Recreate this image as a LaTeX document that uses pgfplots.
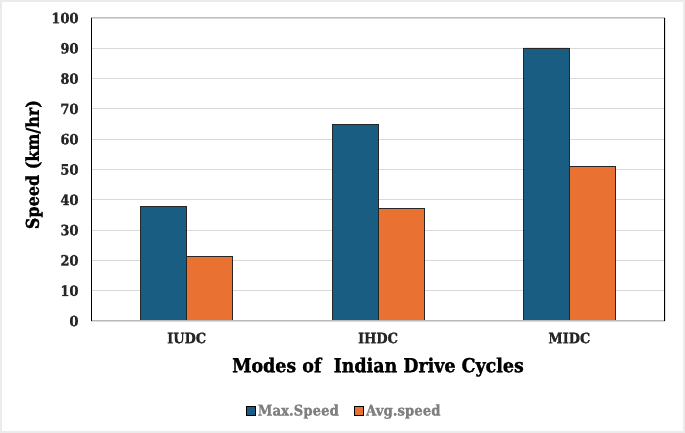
\documentclass[border=0pt]{standalone}
\usepackage{pgfplots}
\pgfplotsset{compat=1.18}
\usepackage{fontspec}
\setmainfont{DejaVu Serif Condensed}[BoldFeatures={FakeBold=1.2}]
\definecolor{cblue}{HTML}{195E82}
\definecolor{corange}{HTML}{E97132}
\definecolor{tickc}{HTML}{262626}
\definecolor{legc}{HTML}{7F7F7F}
\definecolor{gridc}{HTML}{D9D9D9}
\definecolor{framec}{HTML}{EBEBEB}
\begin{document}
\begin{tikzpicture}
\fill[framec] (0pt,0pt) rectangle (685pt,433pt);
\fill[white] (2pt,2pt) rectangle (683pt,431pt);
\begin{axis}[
  at={(91pt,112pt)}, anchor=south west,
  scale only axis, width=574pt, height=303pt,
  ymin=0, ymax=100, xmin=-0.5, xmax=2.5,
  ybar=0pt, bar width=46pt,
  xtick={0,1,2}, xticklabels={IUDC,IHDC,MIDC},
  ytick={0,10,...,100},
  major tick length=0pt,
  ymajorgrids, grid style={draw=gridc, line width=0.9pt},
  axis line style={draw=none},
  /pgf/number format/assume math mode=true,
  tick label style={font=\bfseries\fontsize{14.4}{15}\selectfont, color=tickc},
  yticklabel style={xshift=-9pt},
  xticklabel style={yshift=-8pt},
  xlabel={Modes of\ \ Indian Drive Cycles},
  ylabel={Speed (km/hr)},
  xlabel style={font=\bfseries\fontsize{19.4}{21}\selectfont, at={(axis description cs:0.5,-0.152)}, anchor=center},
  ylabel style={font=\bfseries\fontsize{17.8}{19}\selectfont, at={(axis description cs:-0.0994,0.516)}, anchor=center},
  legend style={at={(axis description cs:0.4408,-0.296)}, anchor=center, draw=none, fill=none,
    legend columns=2, font=\bfseries\fontsize{14.8}{16}\selectfont, text=legc,
    /tikz/every even column/.append style={column sep=13pt}},
  legend image code/.code={\draw[#1, draw=black, line width=0.7pt] (0pt,-4.8pt) rectangle (9.5pt,4.8pt);},
]
\addplot[fill=cblue, draw=black!85, line width=0.8pt] coordinates {(0,37.7) (1,65.0) (2,90.1)};
\addplot[fill=corange, draw=black!85, line width=0.8pt] coordinates {(0,21.4) (1,37.0) (2,50.9)};
\legend{Max.Speed, Avg.speed}
\draw[gray!55, line width=1.3pt] (rel axis cs:0,0) -- (rel axis cs:1,0);
\draw[gray!50, line width=1pt] (rel axis cs:0,1) -- (rel axis cs:1,1);
\draw[black, line width=1.1pt] (rel axis cs:0,0) -- (rel axis cs:0,1);
\draw[black, line width=1.1pt] (rel axis cs:1,0) -- (rel axis cs:1,1);
\end{axis}
\end{tikzpicture}
\end{document}
